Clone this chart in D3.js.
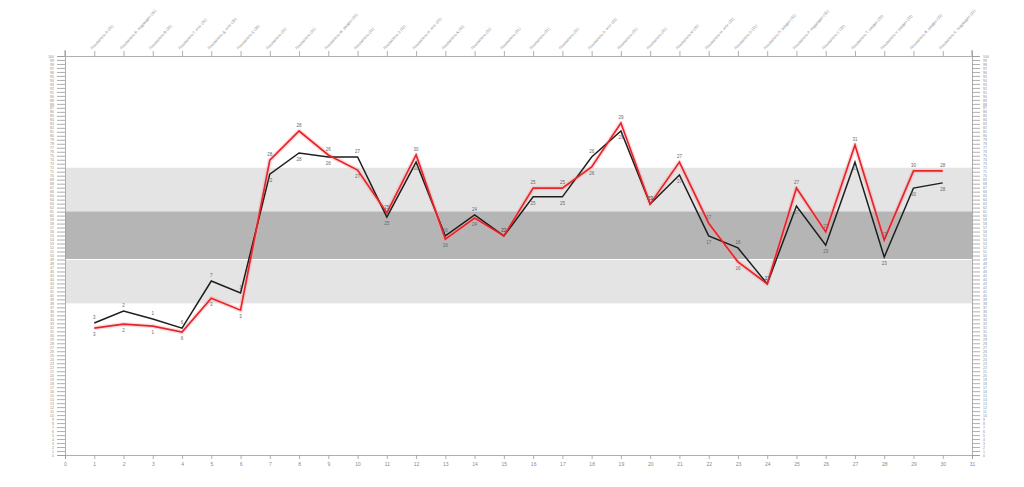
<!DOCTYPE html>
<html><head><meta charset="utf-8">
<script src="https://cdn.jsdelivr.net/npm/d3@7"></script>
<style>body{margin:0;background:#fff;}svg{display:block;font-family:"Liberation Sans",Arial,sans-serif;}</style>
</head><body><svg id="c" width="1024" height="487"></svg>
<script>
const categories = ["Показатель А (31)","Показатель Б, подраздел (30)","Показатель В (30)","Показатель Г, итог (30)","Показатель Д, итог (30)","Показатель Е (30)","Показатель (31)","Показатель (31)","Показатель Ж, раздел (31)","Показатель (31)","Показатель З (31)","Показатель И, итог (31)","Показатель К (31)","Показатель (31)","Показатель (31)","Показатель (31)","Показатель (31)","Показатель Л, итог (31)","Показатель (31)","Показатель (31)","Показатель М (31)","Показатель Н, итог (31)","Показатель О (31)","Показатель П, раздел (31)","Показатель Р, подраздел (31)","Показатель С (31)","Показатель Т, раздел (31)","Показатель У, раздел (31)","Показатель Ф, раздел (31)","Показатель Х, подраздел (31)"];
const blackValues = [33.1,36.1,34.1,31.8,43.6,40.6,70.4,75.7,74.7,74.7,59.6,73.4,54.9,60.2,54.9,64.7,64.7,74.7,81.2,62.9,70.2,54.9,51.9,42.9,62.4,52.6,73.4,49.6,66.9,68.2];
const redValues = [31.8,32.8,32.3,30.8,39.3,36.3,73.9,81.2,75.2,71.4,60.7,75.2,54.1,59.4,54.9,66.9,66.9,72.2,83.2,62.9,73.4,58.1,48.4,42.9,66.9,55.9,77.7,53.9,71.2,71.2];
const blackLabels = ["3","2","1","6","7","1","22","28","26","27","25","30","16","24","22","25","25","26","29","23","27","17","16","17","27","23","31","23","30","28"];
const redLabels = ["3","2","1","6","3","3","28","28","26","27","25","30","16","24","22","25","25","26","29","23","27","17","16","17","27","23","31","23","30","28"];
const outerBand = [38, 72];
const innerBand = [49, 61];
const yTicks = d3.range(0, 101, 1);
const xTicks = d3.range(0, 32, 1);

const svg = d3.select("#c");
const x = d3.scaleLinear().domain([0, 31]).range([65, 972]);
const y = d3.scaleLinear().domain([0, 100]).range([455, 56]);

svg.append("rect").attr("x", x(0)).attr("width", x(31)-x(0))
  .attr("y", y(outerBand[1])).attr("height", y(outerBand[0]) - y(outerBand[1])).attr("fill", "#e4e4e4");
svg.append("rect").attr("x", x(0)).attr("width", x(31)-x(0))
  .attr("y", y(innerBand[1])).attr("height", y(innerBand[0]) - y(innerBand[1])).attr("fill", "#b5b5b5");
svg.append("line").attr("x1", x(0)).attr("x2", x(31)).attr("y1", y(innerBand[0])).attr("y2", y(innerBand[0]))
  .attr("stroke", "#fff").attr("stroke-width", 1.2);

function styleAxis(g){
  g.selectAll("path,line").attr("stroke","#9a9a9a").attr("stroke-width",0.8);
  g.selectAll("text").attr("fill","#8a8a8a").style("font-size","3.5px");
}
svg.append("g").attr("transform",`translate(${x(0)},0)`)
  .call(d3.axisLeft(y).tickValues(yTicks).tickSize(8).tickPadding(3).tickFormat(d3.format("d"))).call(styleAxis);
svg.append("g").attr("transform",`translate(${x(31)},0)`)
  .call(d3.axisRight(y).tickValues(yTicks).tickSize(8).tickPadding(3).tickFormat(d3.format("d"))).call(styleAxis);
const bx = svg.append("g").attr("transform",`translate(0,${y(0)})`)
  .call(d3.axisBottom(x).tickValues(xTicks).tickSize(4).tickPadding(3).tickFormat(d3.format("d"))).call(styleAxis);
bx.selectAll("text").style("font-size","5px");
const tx = svg.append("g").attr("transform",`translate(0,${y(100)})`)
  .call(d3.axisTop(x).tickValues(d3.range(1,31)).tickSize(5).tickFormat(d => categories[d-1])).call(styleAxis);
tx.selectAll("text").style("font-size","3.8px").attr("text-anchor","start")
  .attr("transform","rotate(-48)").attr("dx","3").attr("dy","2");
svg.append("line").attr("x1",x(0)).attr("x2",x(0)).attr("y1",y(100)-6).attr("y2",y(100)).attr("stroke","#999");
svg.append("line").attr("x1",x(31)).attr("x2",x(31)).attr("y1",y(100)-6).attr("y2",y(100)).attr("stroke","#999");

const line = d3.line().x((d,i) => x(i+1)).y(d => y(d));

svg.append("path").datum(redValues).attr("d", line).attr("fill","none")
  .attr("stroke","#f4a0a2").attr("stroke-opacity",0.35).attr("stroke-width",4.5).attr("stroke-linejoin","round");
svg.append("path").datum(blackValues).attr("d", line).attr("fill","none")
  .attr("stroke","#1e1e1e").attr("stroke-width",1.5);
svg.append("path").datum(redValues).attr("d", line).attr("fill","none")
  .attr("stroke","#e8242a").attr("stroke-width",1.7);

function addLabels(vals, other, labels){
  svg.append("g").selectAll("text").data(vals).join("text")
    .attr("x",(d,i)=>x(i+1)).attr("y",(d,i)=> d >= other[i] ? y(d)-4 : y(d)+8)
    .attr("text-anchor","middle").attr("fill","#666").style("font-size","4.5px")
    .text((d,i)=>labels[i]);
}
addLabels(blackValues, redValues, blackLabels);
addLabels(redValues, blackValues, redLabels);
</script></body></html>
